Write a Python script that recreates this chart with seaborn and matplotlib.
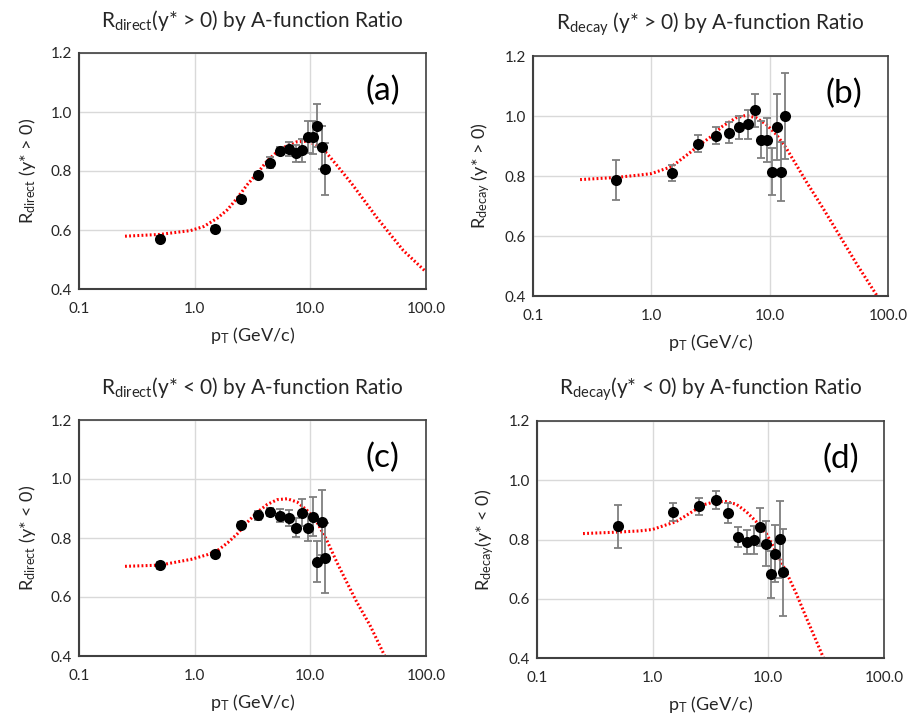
import numpy as np
import pandas as pd
import matplotlib
matplotlib.use("Agg")
import matplotlib.pyplot as plt
from matplotlib.ticker import FixedLocator, FixedFormatter, LogLocator, NullFormatter
import seaborn as sns

sns.set_theme(style="white")
plt.rcParams["font.family"] = ["Lato", "DejaVu Sans"]
plt.rcParams["mathtext.fontset"] = "custom"
plt.rcParams["mathtext.rm"] = "Lato"
plt.rcParams["mathtext.it"] = "Lato:italic"

# measured bins (GeV/c)
pt = [0.5, 1.5, 2.5, 3.5, 4.5, 5.5, 6.5, 7.5, 8.5, 9.5, 10.5, 11.5, 12.5, 13.5]

# (a) R_direct, y* > 0
r_dir_fwd = [0.570, 0.604, 0.704, 0.785, 0.828, 0.868, 0.874, 0.860, 0.870, 0.915, 0.914, 0.954, 0.881, 0.808]
e_dir_fwd = [0.008, 0.008, 0.008, 0.010, 0.018, 0.015, 0.023, 0.028, 0.039, 0.053, 0.057, 0.073, 0.073, 0.088]
fit_x_dir_fwd = [0.25, 0.5, 0.92, 1.2, 1.57, 1.91, 2.33, 2.84, 3.47, 4.23, 5.16, 6.28, 7.66, 9.35,
                 11.4, 13.9, 16.9, 22.7, 29.0, 37.6, 48.9, 63.5, 100.0]
fit_y_dir_fwd = [0.579, 0.585, 0.598, 0.612, 0.640, 0.668, 0.708, 0.753, 0.792, 0.834, 0.865, 0.886, 0.899, 0.901,
                 0.888, 0.860, 0.820, 0.758, 0.702, 0.642, 0.586, 0.531, 0.458]

# (b) R_decay, y* > 0
r_dec_fwd = [0.786, 0.810, 0.908, 0.935, 0.945, 0.962, 0.972, 1.019, 0.921, 0.920, 0.815, 0.965, 0.815, 1.000]
e_dec_fwd = [0.067, 0.028, 0.028, 0.029, 0.034, 0.037, 0.047, 0.055, 0.062, 0.072, 0.077, 0.110, 0.099, 0.143]
fit_x_dec_fwd = [0.25, 0.5, 0.786, 1.0, 1.48, 2.09, 2.5, 3.09, 4.0, 5.2, 6.3, 7.7, 9.35, 11.4,
                 13.8, 16.8, 20.4, 28.4, 39.3, 54.5, 81.0]
fit_y_dec_fwd = [0.788, 0.795, 0.803, 0.808, 0.831, 0.876, 0.901, 0.927, 0.966, 0.994, 1.002, 0.994, 0.972, 0.938,
                 0.893, 0.837, 0.781, 0.691, 0.599, 0.506, 0.400]

# (c) R_direct, y* < 0
r_dir_bwd = [0.707, 0.745, 0.843, 0.877, 0.888, 0.876, 0.868, 0.835, 0.885, 0.835, 0.872, 0.720, 0.853, 0.733]
e_dir_bwd = [0.012, 0.008, 0.010, 0.015, 0.014, 0.021, 0.027, 0.032, 0.046, 0.046, 0.066, 0.069, 0.110, 0.118]
fit_x_dir_bwd = [0.25, 0.5, 0.94, 1.30, 1.58, 1.93, 2.35, 2.86, 3.49, 4.25, 5.18, 6.31, 7.68, 9.35,
                 11.4, 13.9, 16.9, 20.6, 25.1, 32.7, 44.0]
fit_y_dir_bwd = [0.704, 0.708, 0.728, 0.744, 0.758, 0.784, 0.815, 0.854, 0.888, 0.914, 0.930, 0.933, 0.922, 0.894,
                 0.854, 0.792, 0.719, 0.651, 0.584, 0.505, 0.400]

# (d) R_decay, y* < 0
r_dec_bwd = [0.844, 0.892, 0.912, 0.934, 0.889, 0.808, 0.791, 0.799, 0.842, 0.786, 0.682, 0.752, 0.801, 0.689]
e_dec_bwd = [0.072, 0.030, 0.028, 0.031, 0.033, 0.034, 0.040, 0.048, 0.064, 0.075, 0.078, 0.097, 0.130, 0.146]
fit_x_dec_bwd = [0.25, 0.5, 0.77, 1.0, 1.30, 1.59, 1.95, 2.37, 2.90, 3.54, 4.32, 5.28, 6.45, 7.87,
                 9.60, 11.7, 14.3, 17.5, 21.3, 30.0]
fit_y_dec_bwd = [0.820, 0.825, 0.829, 0.834, 0.849, 0.860, 0.881, 0.902, 0.920, 0.928, 0.928, 0.919, 0.894, 0.860,
                 0.820, 0.758, 0.690, 0.616, 0.536, 0.400]

x_ticks = [0.1, 1.0, 10.0, 100.0]
x_tick_labels = ["0.1", "1.0", "10.0", "100.0"]
y_ticks = [0.4, 0.6, 0.8, 1.0, 1.2]
y_tick_labels = ["0.4", "0.6", "0.8", "1.0", "1.2"]

titles = [
    r"R$_{\mathrm{direct}}$(y* > 0) by A-function Ratio",
    r"R$_{\mathrm{decay}}$ (y* > 0) by A-function Ratio",
    r"R$_{\mathrm{direct}}$(y* < 0) by A-function Ratio",
    r"R$_{\mathrm{decay}}$(y* < 0) by A-function Ratio",
]
ylabels = [
    r"R$_{\mathrm{direct}}$ (y* > 0)",
    r"R$_{\mathrm{decay}}$ (y* > 0)",
    r"R$_{\mathrm{direct}}$ (y* < 0)",
    r"R$_{\mathrm{decay}}$(y* < 0)",
]
xlabel = r"p$_{\mathrm{T}}$ (GeV/c)"
letters = ["(a)", "(b)", "(c)", "(d)"]

panels = [
    (r_dir_fwd, e_dir_fwd, fit_x_dir_fwd, fit_y_dir_fwd),
    (r_dec_fwd, e_dec_fwd, fit_x_dec_fwd, fit_y_dec_fwd),
    (r_dir_bwd, e_dir_bwd, fit_x_dir_bwd, fit_y_dir_bwd),
    (r_dec_bwd, e_dec_bwd, fit_x_dec_bwd, fit_y_dec_bwd),
]

W, H = 908, 715
# axes boxes in pixels: left, top, right, bottom
boxes = [(79, 53, 426, 289), (533, 56, 888, 296), (79, 420, 426, 656), (537, 421, 884, 658)]

fig = plt.figure(figsize=(W / 100, H / 100), dpi=100)
fig.patch.set_facecolor("white")
text_col = "#262626"

for i, ((vals, errs, fx, fy), (l, t, r, b)) in enumerate(zip(panels, boxes)):
    ax = fig.add_axes([l / W, 1 - b / H, (r - l) / W, (b - t) / H])
    ax.set_xscale("log")
    ax.set_xlim(0.1, 100)
    ax.set_ylim(0.4, 1.2)

    ax.grid(True, which="major", color="#d9d9d9", lw=1.0)
    ax.set_axisbelow(True)

    fit = pd.DataFrame({"pt": fx, "R": fy})
    sns.lineplot(data=fit, x="pt", y="R", ax=ax, color="red", lw=2.2,
                 estimator=None, sort=False, zorder=2)
    ax.lines[-1].set_linestyle((0, (0.6, 0.75)))

    ax.errorbar(pt, vals, yerr=errs, fmt="none", ecolor="#7f7f7f",
                elinewidth=1.3, capsize=3, capthick=1.3, zorder=3)
    pts = pd.DataFrame({"pt": pt, "R": vals})
    sns.scatterplot(data=pts, x="pt", y="R", ax=ax, color="black", s=64,
                    edgecolor="black", linewidth=0, zorder=4)

    ax.xaxis.set_major_locator(FixedLocator(x_ticks))
    ax.xaxis.set_major_formatter(FixedFormatter(x_tick_labels))
    ax.xaxis.set_minor_locator(LogLocator(base=10, subs=np.arange(2, 10), numticks=20))
    ax.xaxis.set_minor_formatter(NullFormatter())
    ax.yaxis.set_major_locator(FixedLocator(y_ticks))
    ax.yaxis.set_major_formatter(FixedFormatter(y_tick_labels))

    ax.tick_params(axis="x", which="major", direction="in", length=5, width=1.2,
                   color="#404040", labelsize=11, pad=9, labelcolor=text_col)
    ax.tick_params(axis="x", which="minor", direction="in", length=4, width=1.0,
                   color="#404040")
    ax.tick_params(axis="y", which="major", direction="in", length=4, width=1.2,
                   color="#404040", labelsize=11, pad=5, labelcolor=text_col)

    for side, sp in ax.spines.items():
        sp.set_visible(True)
        sp.set_color("#404040")
        sp.set_linewidth(1.5 if side in ("left", "bottom") else 1.2)

    ax.set_title(titles[i], fontsize=15, color=text_col, pad=19)
    ax.set_xlabel(xlabel, fontsize=13, color=text_col, labelpad=7)
    ax.set_ylabel(ylabels[i], fontsize=13, color=text_col, labelpad=9)
    ax.text(0.875, 0.84, letters[i], transform=ax.transAxes, fontsize=24,
            ha="center", va="center", color="black")

fig.savefig("out.png", dpi=100, facecolor="white")
